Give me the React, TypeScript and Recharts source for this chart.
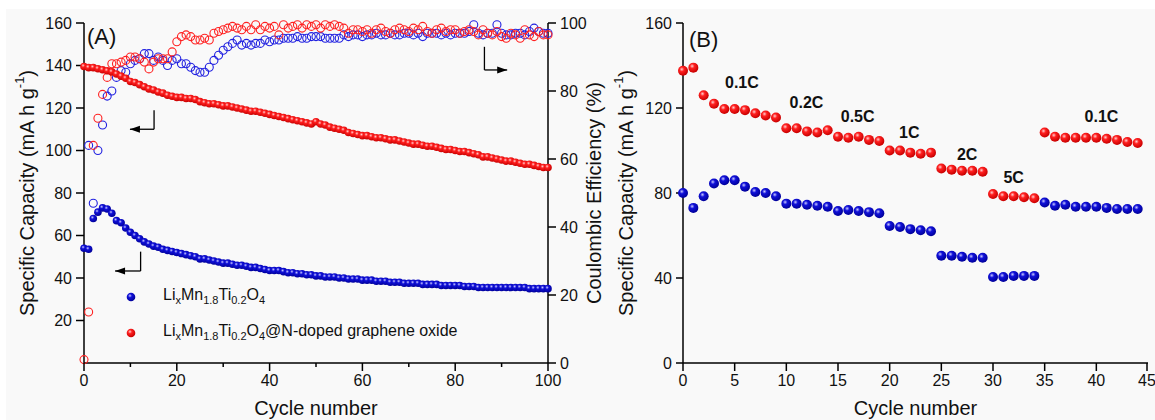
import React from 'react'
import {
  ScatterChart,
  Scatter,
  XAxis,
  YAxis,
  ReferenceLine,
  ReferenceDot,
  Label,
} from 'recharts'

// panel A: 0..100 cycles, index = cycle number
const capacityBareA = [
  54, 53.5, 68, 71, 73, 72.5, 70.5, 67, 66, 63.5,
  61.5, 60, 58.5, 57, 56, 55, 54.5, 53.5, 53, 52.5,
  52, 51.5, 51, 50.5, 50, 49, 49, 48.5, 48, 47.5,
  47, 47, 46.5, 46, 46, 45.5, 45, 45, 44.5, 44,
  43.5, 43.5, 43.5, 43, 42.5, 42.5, 42, 42, 41.5, 41.5,
  41, 41, 40.5, 40.5, 40.5, 40, 40, 39.5, 39.5, 39.5,
  39, 39, 39, 38.5, 38.5, 38.5, 38, 38, 38, 37.5,
  37.5, 37.5, 37.5, 37, 37, 37, 37, 36.5, 36.5, 36.5,
  36.5, 36.5, 36, 36, 36, 35.5, 35.5, 35.5, 35.5, 35.5,
  35.5, 35.5, 35.5, 35.5, 35.5, 35.5, 35, 35, 35, 35,
  35,
]
const capacityCoatedA = [
  139.5, 139, 139, 138.5, 138, 137.5, 137, 136, 135, 134,
  132.5, 132, 131, 130, 129, 128.5, 127.5, 127, 126, 125.5,
  125, 125, 124.5, 124.5, 124, 123, 122.5, 122, 122, 121.5,
  121, 121, 120.5, 120, 119.5, 119, 118.5, 118.5, 118, 117.5,
  117, 116.5, 116, 115.5, 115, 114.5, 114, 113.5, 113, 112.5,
  113.5, 112.5, 112, 111, 110.5, 110, 109.5, 108.5, 108, 107.5,
  107, 107, 106.5, 106, 106, 105.5, 105, 105, 104.5, 104,
  103.5, 103, 103, 102.5, 102, 102, 101.5, 101, 100.5, 100.5,
  100, 99.5, 99.5, 99, 98.5, 98, 97, 97, 96.5, 96,
  95.5, 95, 95, 94.5, 94, 93.5, 93.5, 93, 92.5, 92,
  92,
]
const efficiencyBareA = [
  null, 64, 47, 62.5, 70, 78.5, 80, 84, 86, 85.5,
  88, 89, 89.5, 91, 91, 89, 90, 89, 87.5, 89,
  89.5, 88, 88, 87, 86, 85.5, 85.5, 87, 89, 90.5,
  92, 93, 94, 95, 93.5, 94, 93.5, 94, 94, 95,
  94.5, 95, 95, 95.5, 95.5, 95.5, 96, 95.5, 95.5, 96,
  96, 96, 95.5, 95.5, 95.5, 95.5, 96.5, 96, 96.5, 96.5,
  96, 96.5, 96.5, 97, 96.5, 96.5, 97, 96.5, 96.5, 97,
  97, 96.5, 97, 96, 97, 97, 97, 96.5, 97, 96.5,
  97, 97, 97, 97.5, 99.5, 97, 96.5, 97, 97, 99.5,
  97, 96.5, 96.5, 97, 97, 96.5, 97.5, 98.5, 97.5, 97,
  97,
]
const efficiencyCoatedA = [
  1, 15, 64, 72, 79, 84, 88, 88, 88.5, 89,
  90, 90, 89.5, 88.5, 86.5, 88.5, 89.5, 89.5, 89.5, 91.5,
  94.5, 96, 96.5, 96, 95, 95, 95.5, 95, 97, 97.5,
  98, 98.5, 99, 98.5, 98, 99, 98, 99.5, 98, 99,
  98.5, 99, 96.5, 99.5, 98.5, 99, 99.5, 98.5, 99.5, 99,
  99.5, 98.5, 99.5, 99, 99.5, 99, 98.5, 97, 98, 98,
  97.5, 98, 97, 98, 98.5, 97.5, 97, 98, 98.5, 98,
  97.5, 98.5, 98, 99, 97.5, 97, 98, 98.5, 97.5, 98,
  98, 97, 97.5, 98, 97.5, 96.5, 98, 97, 96.5, 97.5,
  96, 95.5, 97, 96.5, 95.5, 98, 96.5, 96, 97.5, 96.5,
  96.5,
]

// panel B: rate test, 0..44 cycles
const capacityBareB = [
  80, 73, 78.5, 84.5, 86, 86, 83, 80.5, 80, 78.5,
  75, 75, 74.5, 74, 73.5, 71.5, 72, 71.5, 71, 70.5,
  64.5, 64, 63, 62.5, 62, 50.5, 50.5, 50, 49.5, 49.5,
  40.5, 40.5, 41, 41, 41, 75.5, 74, 74.5, 73.5, 73.5,
  73.5, 73, 72.5, 72.5, 72.5,
]
const capacityCoatedB = [
  137.5, 139, 126, 122, 119.5, 119.5, 119, 117.5, 116.5, 115.5,
  110.5, 110.5, 109, 108.5, 109.5, 106.5, 106, 106.5, 105, 104.5,
  100, 100, 99, 98.5, 99, 91.5, 91, 90.5, 90.5, 90,
  79.5, 78.5, 78.5, 78, 77.5, 108.5, 106.5, 106, 106, 106,
  106, 105.5, 105, 104, 103.5,
]
const rateNames = ['0.1C', '0.2C', '0.5C', '1C', '2C', '5C', '0.1C']

// annotation anchors (data coordinates)
const rateLabelAt = [
  [5.7, 132], [11.95, 122.5], [16.9, 116], [21.9, 108.4],
  [27.5, 98.3], [32, 87.3], [40.5, 116.1],
]
const arrowsA = [
  { x: 15.1, top: 119, y: 110, tip: 9.9 },
  { x: 12.2, top: 52.4, y: 43.3, tip: 6.7 },
  { x: 86.3, top: 148.8, y: 137.9, tip: 91.2 },
]

const FONT = '"Liberation Sans", Arial, sans-serif'
const BG = '#f9f9f9'

const toPoints = (arr: (number | null)[]) =>
  arr.map((y, x) => ({ x, y })).filter((p) => p.y != null)

const ball = (id: string, r: number) => (p: any) =>
  <circle cx={p.cx} cy={p.cy} r={r} fill={`url(#${id})`} />

const ring = (color: string) => (p: any) =>
  <circle cx={p.cx} cy={p.cy} r={4} fill="none" stroke={color} strokeWidth={1.1} />

const Gradients = ({ pre }: { pre: string }) => (
  <defs>
    <radialGradient id={`${pre}red`} cx="38%" cy="35%" r="65%">
      <stop offset="0%" stopColor="#ffd0d0" />
      <stop offset="35%" stopColor="#ff2020" />
      <stop offset="100%" stopColor="#c80000" />
    </radialGradient>
    <radialGradient id={`${pre}blue`} cx="38%" cy="35%" r="65%">
      <stop offset="0%" stopColor="#c8c8ff" />
      <stop offset="35%" stopColor="#1010d8" />
      <stop offset="100%" stopColor="#00009a" />
    </radialGradient>
  </defs>
)

const axisLine = { stroke: '#000', strokeWidth: 1.5 }
const tickStyle = { fill: '#111', fontSize: 16, fontFamily: FONT }
const X_TICK = 8
const X_GAP = 4

// bottom tick with its own tick mark: long on labelled ticks, short on minor ones
const xTick = (labelEvery: number) => (p: any) => {
  const v = p.payload.value
  const major = v % labelEvery === 0
  const y0 = p.y - X_TICK - X_GAP
  return (
    <g>
      <line x1={p.x} x2={p.x} y1={y0} y2={y0 + (major ? 8 : 4)} stroke="#000" strokeWidth={1.5} />
      {major && (
        <text x={p.x} y={p.y} dy="0.71em" textAnchor="middle" {...tickStyle}>
          {v}
        </text>
      )}
    </g>
  )
}

const yTitle = (text: React.ReactNode, dx: number) => (props: any) => {
  const vb = props.viewBox
  const cx = vb.x + dx
  const cy = vb.y + vb.height / 2
  return (
    <text
      x={cx}
      y={cy}
      transform={`rotate(-90, ${cx}, ${cy})`}
      textAnchor="middle"
      dominantBaseline="central"
      fontSize={20}
      fontFamily={FONT}
      fill="#111"
    >
      {text}
    </text>
  )
}

const capacityTitle = (
  <>
    Specific Capacity (mA h g
    <tspan dy={-8} fontSize={13}>-1</tspan>
    <tspan dy={8}>)</tspan>
  </>
)

const xTitle = (props: any) => {
  const vb = props.viewBox
  return (
    <text
      x={vb.x + vb.width / 2}
      y={vb.y + 45}
      textAnchor="middle"
      dominantBaseline="central"
      fontSize={20}
      fontFamily={FONT}
      fill="#111"
    >
      Cycle number
    </text>
  )
}

const arrowHead = (dir: number) => (p: any) => (
  <polygon
    points={`${p.cx},${p.cy} ${p.cx - 10 * dir},${p.cy - 3.5} ${p.cx - 10 * dir},${p.cy + 3.5}`}
    fill="#000"
  />
)

const rateLabel = (text: string) => (p: any) => (
  <text
    x={p.cx}
    y={p.cy}
    textAnchor="middle"
    dominantBaseline="central"
    fontSize={16}
    fontWeight="bold"
    fontFamily={FONT}
    fill="#111"
  >
    {text}
  </text>
)

const sub = { fontSize: 11, position: 'relative' as const, top: 4 }
const Formula = () => (
  <>
    Li<span style={sub}>x</span>Mn<span style={sub}>1.8</span>Ti<span style={sub}>0.2</span>O<span style={sub}>4</span>
  </>
)

const LegendBall = ({ color }: { color: string }) => (
  <svg width={10} height={10} style={{ position: 'absolute', left: 126, top: -5 }}>
    <circle cx={5} cy={5} r={4.3} fill={`url(#A${color})`} />
  </svg>
)

function PanelA() {
  return (
    <ScatterChart width={620} height={420} margin={{ top: 23, right: 20, bottom: 0, left: 0 }}>
      <Gradients pre="A" />
      <XAxis
        type="number"
        dataKey="x"
        domain={[0, 100]}
        ticks={[0, 10, 20, 30, 40, 50, 60, 70, 80, 90, 100]}
        height={57}
        tickSize={X_TICK}
        tickMargin={X_GAP}
        axisLine={axisLine}
        tickLine={false}
        tick={xTick(20)}
      >
        <Label content={xTitle} />
      </XAxis>
      <XAxis xAxisId="top" type="number" orientation="top" domain={[0, 100]} height={0} tick={false} tickLine={false} axisLine={axisLine} />
      <YAxis
        yAxisId="left"
        type="number"
        dataKey="y"
        domain={[0, 160]}
        ticks={[20, 40, 60, 80, 100, 120, 140, 160]}
        width={84}
        tickSize={8}
        tickMargin={4}
        axisLine={axisLine}
        tickLine={axisLine}
        tick={tickStyle}
      >
        <Label content={yTitle(capacityTitle, 27)} />
      </YAxis>
      <YAxis
        yAxisId="right"
        orientation="right"
        type="number"
        dataKey="y"
        domain={[0, 100]}
        ticks={[0, 20, 40, 60, 80, 100]}
        width={52}
        tickSize={8}
        tickMargin={4}
        axisLine={axisLine}
        tickLine={axisLine}
        tick={tickStyle}
      >
        <Label content={yTitle('Coulombic Efficiency (%)', 46)} />
      </YAxis>

      <Scatter yAxisId="right" data={toPoints(efficiencyBareA)} shape={ring('#2020e0')} isAnimationActive={false} />
      <Scatter yAxisId="right" data={toPoints(efficiencyCoatedA)} shape={ring('#ff2020')} isAnimationActive={false} />
      <Scatter yAxisId="left" data={toPoints(capacityBareA)} shape={ball('Ablue', 3.8)} isAnimationActive={false} />
      <Scatter yAxisId="left" data={toPoints(capacityCoatedA)} shape={ball('Ared', 3.8)} isAnimationActive={false} />

      {arrowsA.map((a, i) => (
        <ReferenceLine
          key={`v${i}`}
          yAxisId="left"
          segment={[{ x: a.x, y: a.top }, { x: a.x, y: a.y }]}
          stroke="#000"
          strokeWidth={1.3}
        />
      ))}
      {arrowsA.map((a, i) => (
        <ReferenceLine
          key={`h${i}`}
          yAxisId="left"
          segment={[{ x: a.x, y: a.y }, { x: a.tip, y: a.y }]}
          stroke="#000"
          strokeWidth={1.3}
        />
      ))}
      {arrowsA.map((a, i) => (
        <ReferenceDot
          key={`t${i}`}
          yAxisId="left"
          x={a.tip}
          y={a.y}
          shape={arrowHead(a.tip > a.x ? 1 : -1)}
        />
      ))}
    </ScatterChart>
  )
}

function PanelB() {
  return (
    <ScatterChart width={555} height={420} margin={{ top: 23, right: 7, bottom: 0, left: 0 }}>
      <Gradients pre="B" />
      <XAxis
        type="number"
        dataKey="x"
        domain={[0, 45]}
        ticks={[0, 5, 10, 15, 20, 25, 30, 35, 40, 45]}
        height={57}
        tickSize={X_TICK}
        tickMargin={X_GAP}
        axisLine={axisLine}
        tickLine={false}
        tick={xTick(5)}
      >
        <Label content={xTitle} />
      </XAxis>
      <XAxis xAxisId="top" type="number" orientation="top" domain={[0, 45]} height={0} tick={false} tickLine={false} axisLine={axisLine} />
      <YAxis
        yAxisId="left"
        type="number"
        dataKey="y"
        domain={[0, 160]}
        ticks={[0, 40, 80, 120, 160]}
        width={83}
        tickSize={7}
        tickMargin={4}
        axisLine={axisLine}
        tickLine={axisLine}
        tick={tickStyle}
      >
        <Label content={yTitle(capacityTitle, 26)} />
      </YAxis>
      <YAxis yAxisId="right" orientation="right" domain={[0, 160]} width={0} tick={false} tickLine={false} axisLine={axisLine} />

      <Scatter yAxisId="left" data={toPoints(capacityBareB)} shape={ball('Bblue', 5)} isAnimationActive={false} />
      <Scatter yAxisId="left" data={toPoints(capacityCoatedB)} shape={ball('Bred', 5)} isAnimationActive={false} />

      {rateNames.map((name, i) => (
        <ReferenceDot
          key={i}
          yAxisId="left"
          x={rateLabelAt[i][0]}
          y={rateLabelAt[i][1]}
          shape={rateLabel(name)}
        />
      ))}
    </ScatterChart>
  )
}

export default function App() {
  return (
    <div
      style={{
        position: 'absolute',
        left: 0,
        top: 0,
        width: 1155,
        height: 420,
        background: '#fff',
        fontFamily: FONT,
        color: '#111',
      }}
    >
      <div style={{ position: 'absolute', left: 6, top: 9, width: 1149, height: 411, background: BG }} />
      <div style={{ position: 'absolute', left: 0, top: 0 }}>
        <PanelA />
      </div>
      <div style={{ position: 'absolute', left: 600, top: 0 }}>
        <PanelB />
      </div>
      <div style={{ position: 'absolute', left: 87, top: 24, fontSize: 22 }}>(A)</div>
      <div style={{ position: 'absolute', left: 689, top: 27, fontSize: 22 }}>(B)</div>
      <div style={{ position: 'absolute', left: 0, top: 297, fontSize: 16, whiteSpace: 'nowrap' }}>
        <LegendBall color="blue" />
        <div style={{ position: 'absolute', left: 163, top: -11 }}>
          <Formula />
        </div>
      </div>
      <div style={{ position: 'absolute', left: 0, top: 333, fontSize: 16, whiteSpace: 'nowrap' }}>
        <LegendBall color="red" />
        <div style={{ position: 'absolute', left: 163, top: -11 }}>
          <Formula />@N-doped graphene oxide
        </div>
      </div>
    </div>
  )
}
